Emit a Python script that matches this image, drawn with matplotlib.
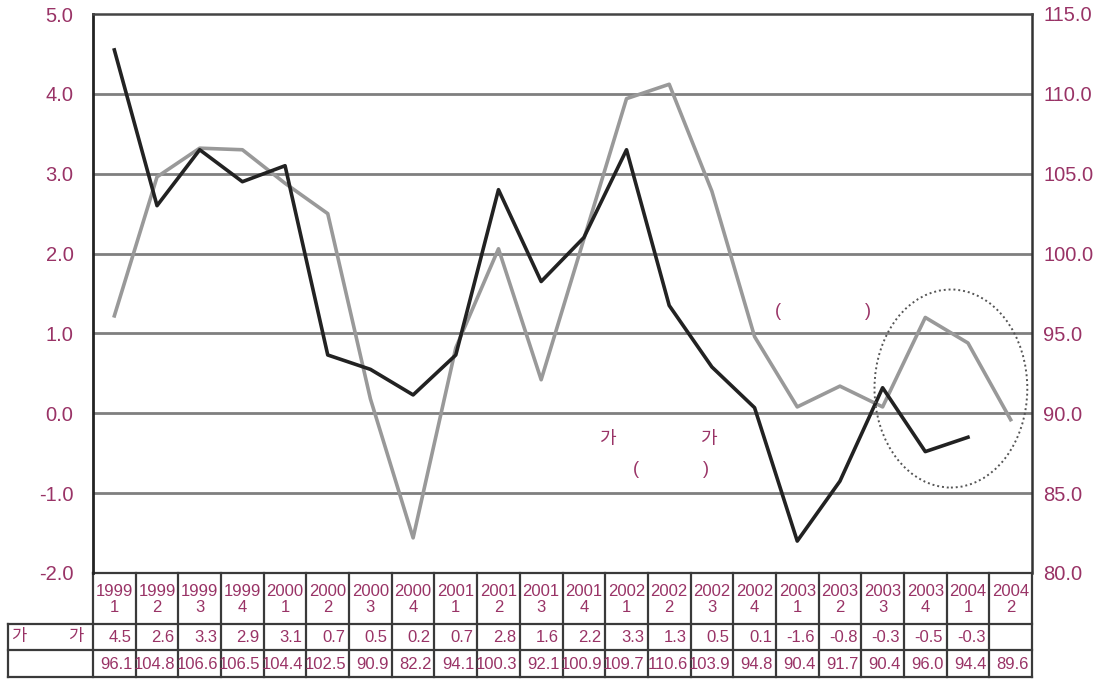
import matplotlib
matplotlib.use("Agg")
import matplotlib.pyplot as plt
from matplotlib.patches import Ellipse

plt.rcParams['font.family'] = ['Liberation Sans', 'Noto Sans CJK KR', 'DejaVu Sans']

years = ['1999', '1999', '1999', '1999', '2000', '2000', '2000', '2000',
         '2001', '2001', '2001', '2001', '2002', '2002', '2002', '2002',
         '2003', '2003', '2003', '2003', '2004', '2004']
quarters = ['1', '2', '3', '4', '1', '2', '3', '4', '1', '2', '3', '4',
            '1', '2', '3', '4', '1', '2', '3', '4', '1', '2']
# dark line as drawn (left axis)
growth = [4.55, 2.6, 3.3, 2.9, 3.1, 0.73, 0.55, 0.23, 0.73, 2.8, 1.65, 2.2,
          3.3, 1.35, 0.58, 0.07, -1.6, -0.85, 0.32, -0.48, -0.3]
# table row as printed
growth_labels = ['4.5', '2.6', '3.3', '2.9', '3.1', '0.7', '0.5', '0.2', '0.7', '2.8', '1.6',
                 '2.2', '3.3', '1.3', '0.5', '0.1', '-1.6', '-0.8', '-0.3', '-0.5', '-0.3', '']
# gray line (right axis)
index = [96.1, 104.8, 106.6, 106.5, 104.4, 102.5, 90.9, 82.2, 94.1, 100.3, 92.1,
         100.9, 109.7, 110.6, 103.9, 94.8, 90.4, 91.7, 90.4, 96.0, 94.4, 89.6]
left_ticks = [-2.0, -1.0, 0.0, 1.0, 2.0, 3.0, 4.0, 5.0]
right_ticks = [80.0, 85.0, 90.0, 95.0, 100.0, 105.0, 110.0, 115.0]

TXT = '#993366'
W, H = 1103, 679
fig = plt.figure(figsize=(W / 100, H / 100), dpi=100)

x0, x1 = 93, 1032
ytop, ybot = 14, 573
n = len(index)
ax = fig.add_axes([x0 / W, 1 - ybot / H, (x1 - x0) / W, (ybot - ytop) / H])
ax2 = ax.twinx()
ax.set_zorder(ax2.get_zorder() + 1)
ax.patch.set_visible(False)

ax.set_xlim(-0.5, n - 0.5)
ax.set_ylim(-2.0, 5.0)
ax2.set_ylim(80, 115)
ax.set_yticks(left_ticks)
ax.set_yticklabels([f'{v:.1f}' for v in left_ticks])
ax2.set_yticks(right_ticks)
ax2.set_yticklabels([f'{v:.1f}' for v in right_ticks])
ax.set_xticks([])
ax.tick_params(axis='y', length=0, pad=14, labelsize=14.5, labelcolor=TXT)
ax2.tick_params(axis='y', length=0, pad=8, labelsize=14.5, labelcolor=TXT)

for t in right_ticks[1:-1]:
    ax2.axhline(t, color='#7f7f7f', lw=2, zorder=0)

for a in (ax, ax2):
    for s in a.spines.values():
        s.set_visible(False)
ax.spines['left'].set_visible(True)
ax.spines['left'].set_color('#222222')
ax.spines['left'].set_linewidth(2)
ax2.spines['right'].set_visible(True)
ax2.spines['right'].set_color('#333333')
ax2.spines['right'].set_linewidth(1.8)
ax.spines['top'].set_visible(True)
ax.spines['top'].set_color('#444444')
ax.spines['top'].set_linewidth(1.8)

xs = list(range(n))
ax2.plot(xs, index, color='#999999', lw=2.6, zorder=2)
ax.plot(xs[:len(growth)], growth, color='#222222', lw=2.6, zorder=3)

# annotations
for (tx, ty, s) in [(15.55, 1.28, '('), (17.66, 1.28, ')'),
                    (11.54, -0.33, '가'), (13.91, -0.33, '가'),
                    (12.22, -0.70, '('), (13.86, -0.70, ')')]:
    ax.text(tx, ty, s, color=TXT, fontsize=13, ha='center', va='center')

ax.add_patch(Ellipse((19.6, 0.31), 3.58, 2.48, fill=False, ls=(0, (1, 1.5)),
                     color='#555555', lw=1.4, zorder=4))

# table
tb_top, tb_bot = 573, 677
tax = fig.add_axes([x0 / W, 1 - tb_bot / H, (x1 - x0) / W, (tb_bot - tb_top) / H])
tax.set_xlim(-0.5, n - 0.5)
tax.set_ylim(tb_bot - tb_top, 0)
tax.axis('off')
r1, r2, r3 = 51, 77, 104
px = (n) / (x1 - x0)  # data units per pixel
left_edge = -0.5 - (x0 - 8) * px
lc = '#3a3a3a'
kw = dict(color=lc, lw=1.6, clip_on=False)
tax.plot([-0.5, n - 0.5], [0, 0], **kw)
for yy in (r1, r2, r3):
    tax.plot([left_edge, n - 0.5], [yy, yy], **kw)
tax.plot([left_edge, left_edge], [r1, r3], **kw)
for i in range(n + 1):
    tax.plot([i - 0.5, i - 0.5], [0, r3], **kw)

for i in range(n):
    tax.text(i, r1 / 2 + 1, f'{years[i]}\n{quarters[i]}', ha='center', va='center',
             color=TXT, fontsize=12, linespacing=1.05)
    tax.text(i + 0.5 - 4 * px, (r1 + r2) / 2 + 1, growth_labels[i], ha='right', va='center',
             color=TXT, fontsize=12)
    tax.text(i + 0.5 - 3 * px, (r2 + r3) / 2 + 1, f'{index[i]:.1f}', ha='right', va='center',
             color=TXT, fontsize=12)
tax.text(left_edge + 3 * px, (r1 + r2) / 2, '가', ha='left', va='center', color=TXT,
         fontsize=12, clip_on=False)
tax.text(left_edge + 60 * px, (r1 + r2) / 2, '가', ha='left', va='center', color=TXT,
         fontsize=12, clip_on=False)

fig.savefig('out.png', dpi=100)
